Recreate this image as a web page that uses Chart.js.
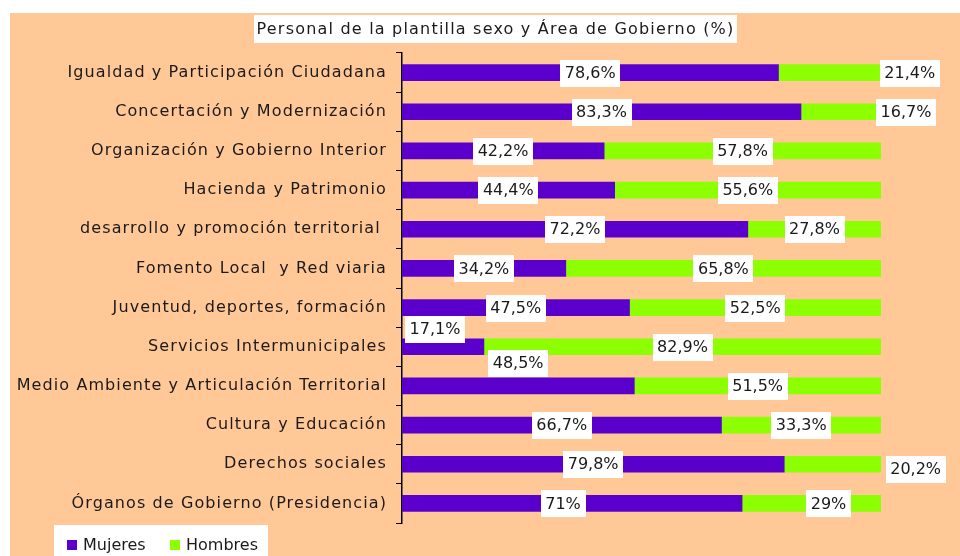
<!DOCTYPE html>
<html><head><meta charset="utf-8">
<script src="https://cdn.jsdelivr.net/npm/chart.js@4/dist/chart.umd.min.js"></script>
<style>html,body{margin:0;padding:0;background:#fff}#c{display:block}</style>
</head><body>
<canvas id="c" width="960" height="556"></canvas>
<script>
const chartTitle = 'Personal de la plantilla sexo y Área de Gobierno (%)';
const categories = [
  'Igualdad y Participación Ciudadana',
  'Concertación y Modernización',
  'Organización y Gobierno Interior',
  'Hacienda y Patrimonio',
  'desarrollo y promoción territorial ',
  'Fomento Local  y Red viaria',
  'Juventud, deportes, formación',
  'Servicios Intermunicipales',
  'Medio Ambiente y Articulación Territorial',
  'Cultura y Educación',
  'Derechos sociales',
  'Órganos de Gobierno (Presidencia)'
];
const mujeres = [78.6, 83.3, 42.2, 44.4, 72.2, 34.2, 47.5, 17.1, 48.5, 66.7, 79.8, 71];
const hombres = [21.4, 16.7, 57.8, 55.6, 27.8, 65.8, 52.5, 82.9, 51.5, 33.3, 20.2, 29];
const seriesNames = ['Mujeres', 'Hombres'];

// label displacement (pixels) as placed in the original
const labelShift = [
  [[0,0],[0,0],[0,0],[0,0],[0,0],[0,0],[0,0],[-8,-18],[0,-23],[0,0],[0,0],[-9,0]],
  [[80,0],[65,0],[0,0],[0,0],[0,0],[0,0],[0,0],[0,0],[0,0],[0,0],[83,5],[17,0]]
];

const FONT = "'DejaVu Sans', Verdana, sans-serif";
const fmt = v => String(v).replace('.', ',') + '%';

const bgPlugin = {
  id: 'bg',
  beforeDraw(chart) {
    const ctx = chart.ctx;
    ctx.save();
    ctx.fillStyle = '#ffffff';
    ctx.fillRect(0, 0, chart.width, chart.height);
    ctx.fillStyle = '#FFC896';
    ctx.fillRect(10, 13, chart.width - 10, chart.height - 13);
    // title
    ctx.font = '16px ' + FONT;
    ctx.letterSpacing = '1.2px';
    const tw = ctx.measureText(chartTitle).width;
    const cx = 495.5;
    ctx.fillStyle = '#ffffff';
    ctx.fillRect(254, 15, 483, 28);
    ctx.fillStyle = '#1a1a1a';
    ctx.textAlign = 'left';
    ctx.textBaseline = 'middle';
    ctx.fillText(chartTitle, cx - tw / 2, 29.5);
    // legend
    ctx.letterSpacing = '0px';
    ctx.fillStyle = '#ffffff';
    ctx.fillRect(54, 525, 214, 31);
    const colors = chart.data.datasets.map(d => d.backgroundColor);
    const items = [[67, 83], [170, 186]];
    for (let i = 0; i < 2; i++) {
      ctx.fillStyle = colors[i];
      ctx.fillRect(items[i][0], 540, 10, 10);
      ctx.fillStyle = '#1a1a1a';
      ctx.fillText(chart.data.datasets[i].label, items[i][1], 545.5);
    }
    ctx.restore();
    // category labels are spaced wider in the original
    ctx.letterSpacing = '1.1px';
  }
};

const labelPlugin = {
  id: 'labels',
  afterDatasetsDraw(chart) {
    const ctx = chart.ctx;
    ctx.save();
    ctx.letterSpacing = '0px';
    ctx.font = '16px ' + FONT;
    ctx.textAlign = 'center';
    ctx.textBaseline = 'middle';
    chart.data.datasets.forEach((ds, di) => {
      const meta = chart.getDatasetMeta(di);
      meta.data.forEach((el, i) => {
        const txt = fmt(ds.data[i]);
        const sh = labelShift[di][i];
        const x = (el.x + el.base) / 2 + sh[0];
        const y = el.y + sh[1];
        const w = ctx.measureText(txt).width;
        ctx.fillStyle = '#ffffff';
        ctx.fillRect(Math.round(x - w / 2 - 4.5), Math.round(y - 13), Math.round(w + 9), 27);
        ctx.fillStyle = '#1a1a1a';
        ctx.fillText(txt, x, y + 1);
      });
    });
    ctx.restore();
  },
  afterDraw(chart) { chart.ctx.letterSpacing = '0px'; }
};

new Chart(document.getElementById('c'), {
  type: 'bar',
  data: {
    labels: categories,
    datasets: [
      { label: seriesNames[0], data: mujeres, backgroundColor: '#5B00CC', barThickness: 16 },
      { label: seriesNames[1], data: hombres, backgroundColor: '#8CFF00', barThickness: 16 }
    ]
  },
  options: {
    responsive: false,
    animation: false,
    indexAxis: 'y',
    layout: { padding: { left: 10, right: 79, top: 53, bottom: 33 } },
    plugins: { legend: { display: false }, title: { display: false }, tooltip: { enabled: false } },
    scales: {
      x: { stacked: true, min: 0, max: 100, display: false },
      y: {
        stacked: true,
        afterFit(s) { s.width = 392; },
        border: { display: true, color: '#000000', width: 1.5 },
        grid: { offset: true, drawOnChartArea: false, tickLength: 6, color: '#000000' },
        ticks: { color: '#1a1a1a', font: { family: FONT, size: 16 }, padding: 9 }
      }
    }
  },
  plugins: [bgPlugin, labelPlugin]
});
</script>
</body></html>
